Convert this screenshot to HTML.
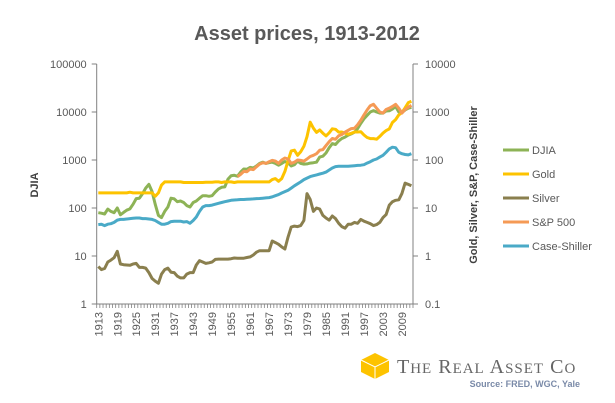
<!DOCTYPE html>
<html><head><meta charset="utf-8"><style>
body{margin:0;background:#fff;}
svg{display:block;font-family:"Liberation Sans",sans-serif;}
</style></head><body>
<svg id="chart" width="615" height="403" viewBox="0 0 615 403">
<text x="307" y="40" text-anchor="middle" font-size="20" font-weight="bold" fill="#595959">Asset prices, 1913-2012</text>
<g id="axes"></g>
<g id="series"></g>
<text transform="translate(38,185) rotate(-90)" text-anchor="middle" font-size="11" font-weight="bold" fill="#404040">DJIA</text>
<text transform="translate(477,185) rotate(-90)" text-anchor="middle" font-size="11" font-weight="bold" fill="#404040">Gold, Silver, S&amp;P, Case-Shiller</text>
<g id="legend"></g>
<g>
<polygon points="375,353 389,360 389,372 375,379 361,372 361,360" fill="#fdc300"/>
<polyline points="361,360 375,367 389,360 M375,367" fill="none" stroke="#fff" stroke-width="1"/>
<line x1="375" y1="367" x2="375" y2="379" stroke="#fff" stroke-width="1"/>
<text x="397" y="373" font-family="Liberation Serif,serif" font-size="20" fill="#666" letter-spacing="1">T<tspan font-size="15">HE</tspan> R<tspan font-size="15">EAL</tspan> A<tspan font-size="15">SSET</tspan> C<tspan font-size="15">O</tspan></text>
</g>
<text x="580" y="387" text-anchor="end" font-size="9" font-weight="bold" fill="#7a8aa8">Source: FRED, WGC, Yale</text>
</svg>
<script>
const startYear = 1913;
const nYears = 100;
const leftTicks = [1,10,100,1000,10000,100000];
const leftTickLabels = ["1","10","100","1000","10000","100000"];
const rightTicks = [0.1,1,10,100,1000,10000];
const rightTickLabels = ["0.1","1","10","100","1000","10000"];
const djia = [80,78,75,95,85,80,100,72,81,90,
96,120,157,160,200,260,310,220,120,70,
63,85,105,160,155,135,140,130,112,105,
130,140,160,180,180,175,180,215,250,270,
275,400,470,480,460,560,650,640,700,680,
750,850,900,850,880,900,850,780,850,930,
880,750,800,950,850,820,830,860,880,900,
1150,1200,1400,1800,2200,2100,2500,2800,3000,3300,
3500,3800,4500,5800,7200,8500,10000,10700,10000,9500,
9500,10500,10600,11500,13000,10000,9800,11000,12000,12500];
const gold = [20.67,20.67,20.67,20.67,20.67,20.67,20.67,20.67,20.67,20.67,
21.3,20.67,20.67,20.67,20.67,20.67,20.67,20.67,17.5,20.67,
30,35,35,35,35,35,35,34,34,34,
34,34,34,34,34.5,34.5,34.5,35,35,34,
35,35,35,34,35,35,35,35,35,35,
35,35,35,35,35,39,41,36,41,58,
97,154,160,125,148,193,306,612,460,376,
424,361,317,368,447,437,381,383,362,344,
360,384,384,388,331,294,279,279,271,310,
363,409,444,603,695,872,972,1225,1572,1669];
const silver = [.60,.52,.55,.75,.82,.92,1.25,.68,.66,.65,
.64,.68,.70,.58,.58,.56,.45,.34,.30,.27,
.42,.52,.56,.46,.45,.38,.35,.35,.42,.45,
.45,.65,.80,.75,.70,.72,.75,.85,.86,.86,
.86,.86,.88,.91,.90,.90,.90,.93,.96,1.05,
1.2,1.29,1.29,1.29,1.29,2.05,1.9,1.75,1.55,1.4,
2.5,4.0,4.2,4.1,4.3,5.5,20.0,15,8.5,10,
9.5,7,6.2,5.6,6.8,6,4.8,4.1,3.8,4.6,
4.6,5.0,4.8,5.8,5.3,5.0,4.7,4.3,4.5,5.0,
6.3,7.3,11.5,13.5,14.5,14.8,20,33,31,29];
const sp500 = [null,null,null,null,null,null,null,null,null,null,
null,null,null,null,null,null,null,null,null,null,
null,null,null,null,null,null,null,null,null,null,
null,null,null,null,null,null,null,null,null,null,
null,null,null,null,45,50,58,57,65,63,
72,82,88,85,92,98,95,85,100,110,
105,85,90,100,98,95,105,118,125,135,
160,165,200,240,280,270,320,340,380,415,
450,460,540,670,870,1100,1350,1450,1200,1000,
950,1130,1200,1300,1450,1200,950,1130,1260,1380];
const caseShiller = [4.5,4.6,4.3,4.6,4.7,5.0,5.6,5.8,5.8,5.9,
6.0,6.1,6.2,6.2,6.0,6.0,5.9,5.8,5.5,5.0,
4.6,4.6,4.8,5.2,5.3,5.3,5.3,5.1,5.2,4.8,
5.5,6.5,8.5,10.5,11.2,11.2,11.5,12.0,12.5,13.0,
13.5,14.0,14.5,14.7,14.8,15.0,15.0,15.2,15.3,15.5,
15.7,15.8,16.0,16.2,16.5,17.0,18.0,19.0,20.5,22.0,
23.5,26,29,32,35,39,42,45,47,49,
51,53,56,62,68,73,74,74,74,74,
75,76,77,78,80,86,92,100,105,115,
125,145,170,185,180,145,135,130,128,135];
const seriesDefs = [
 {name:"DJIA", data:djia, axis:"left", color:"#8db356"},
 {name:"Gold", data:gold, axis:"right", color:"#fdc300"},
 {name:"Silver", data:silver, axis:"right", color:"#8a7f4e"},
 {name:"S&P 500", data:sp500, axis:"right", color:"#f59a55"},
 {name:"Case-Shiller", data:caseShiller, axis:"right", color:"#4aaac7"}
];
const NS="http://www.w3.org/2000/svg";
const X0=96.7, X1=413, Y0=304, Y1=64;
const step=(X1-X0)/nYears;
function xScale(i){return X0+step*(i+0.5);}
function yLeft(v){return Y0-(Math.log10(v)-0)/5*(Y0-Y1);}
function yRight(v){return Y0-(Math.log10(v)+1)/5*(Y0-Y1);}
function mk(tag,attrs,parent){const e=document.createElementNS(NS,tag);for(const k in attrs)e.setAttribute(k,attrs[k]);parent.appendChild(e);return e;}
const axes=document.getElementById('axes');
const ax="#808080";
let l=mk('line',{x1:X0,y1:Y1,x2:X0,y2:Y0,stroke:ax},axes);


l=mk('line',{x1:X1,y1:Y1,x2:X1,y2:Y0,stroke:ax},axes);


l=mk('line',{x1:X0,y1:Y0,x2:X1,y2:Y0,stroke:ax},axes);


leftTicks.forEach((v,i)=>{const y=yLeft(v);
 mk('line',{x1:X0-5,y1:y,x2:X0,y2:y,stroke:ax},axes);
 const t=mk('text',{x:X0-10,y:y+4,'text-anchor':'end','font-size':11,fill:'#595959'},axes);
 t.textContent=leftTickLabels[i];
 
 });
rightTicks.forEach((v,i)=>{const y=yRight(v);
 mk('line',{x1:X1,y1:y,x2:X1+5,y2:y,stroke:ax},axes);
 const t=mk('text',{x:X1+12,y:y+4,'font-size':11,fill:'#595959'},axes);
 t.textContent=rightTickLabels[i];
 
 });
for(let i=0;i<=nYears;i++){const x=X0+step*i;mk('line',{x1:x,y1:Y0,x2:x,y2:Y0+4,stroke:ax,'stroke-width':0.8},axes);}
for(let i=0;i<nYears;i+=6){const x=xScale(i);
 const t=mk('text',{transform:`translate(${x+4},${Y0+8}) rotate(-90)`,'text-anchor':'end','font-size':11,fill:'#595959'},axes);
 t.textContent=String(startYear+i);
 
 }
const sg=document.getElementById('series');
seriesDefs.forEach(s=>{const f=s.axis==="left"?yLeft:yRight;let d="";let pen=false;
 s.data.forEach((v,i)=>{if(v==null){pen=false;return;}d+=(pen?"L":"M")+xScale(i).toFixed(1)+","+f(v).toFixed(1);pen=true;});
 const p=mk('path',{d:d,fill:'none',stroke:s.color,'stroke-width':3,'stroke-linejoin':'round'},sg);
 
 });
const lg=document.getElementById('legend');
seriesDefs.forEach((s,i)=>{const y=150+i*24;
 const g=mk('g',{},lg);
 
 
 mk('line',{x1:503,y1:y,x2:529,y2:y,stroke:s.color,'stroke-width':3},g);
 const t=mk('text',{x:532,y:y+4,'font-size':11,fill:'#595959'},g);
 t.textContent=s.name;});
</script>
</body></html>
